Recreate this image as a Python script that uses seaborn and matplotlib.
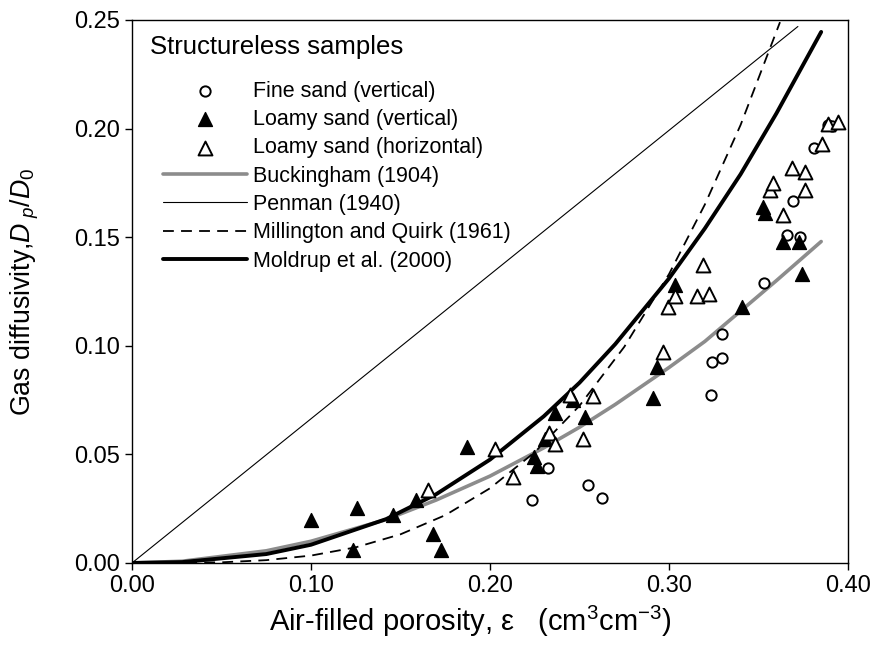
import numpy as np
import pandas as pd
import seaborn as sns
import matplotlib.pyplot as plt

# measured points (air-filled porosity, relative gas diffusivity)
fine_x = [0.2235, 0.2324, 0.2547, 0.2626, 0.3235, 0.324, 0.3296, 0.3296, 0.353,
          0.366, 0.373, 0.369, 0.381, 0.389, 0.391]
fine_y = [0.029, 0.0435, 0.036, 0.030, 0.0775, 0.0925, 0.0945, 0.1055, 0.129,
          0.151, 0.150, 0.1665, 0.191, 0.2015, 0.201]

loamy_v_x = [0.100, 0.1235, 0.1257, 0.1458, 0.1587, 0.1682, 0.1726, 0.1872, 0.2247,
             0.2265, 0.2307, 0.2363, 0.2464, 0.2531, 0.2911, 0.2933, 0.3034,
             0.3408, 0.3525, 0.3535, 0.3637, 0.3726, 0.3743]
loamy_v_y = [0.020, 0.006, 0.0255, 0.022, 0.029, 0.0135, 0.006, 0.0535, 0.049,
             0.0445, 0.057, 0.069, 0.075, 0.067, 0.076, 0.090, 0.128,
             0.118, 0.164, 0.161, 0.148, 0.148, 0.133]

loamy_h_x = [0.1654, 0.2028, 0.2128, 0.233, 0.2363, 0.2447, 0.252, 0.2575, 0.2967,
             0.2994, 0.3034, 0.3156, 0.319, 0.3223, 0.3564, 0.358, 0.3637, 0.3687,
             0.376, 0.376, 0.3855, 0.389, 0.3944]
loamy_h_y = [0.0335, 0.0525, 0.0395, 0.060, 0.055, 0.0775, 0.057, 0.077, 0.097,
             0.118, 0.123, 0.123, 0.137, 0.124, 0.1715, 0.175, 0.160, 0.182,
             0.180, 0.1715, 0.193, 0.202, 0.203]

# model curves
buck_x = [0.0, 0.028, 0.075, 0.10, 0.142, 0.17, 0.20, 0.23, 0.25, 0.27, 0.30, 0.32, 0.34, 0.36, 0.385]
buck_y = [0.0, 0.0008, 0.0056, 0.010, 0.020, 0.029, 0.040, 0.053, 0.0625, 0.073, 0.090, 0.102, 0.116, 0.130, 0.148]

pen_x = [0.0, 0.372]
pen_y = [0.0, 0.247]

mq_x = [0.0, 0.05, 0.075, 0.10, 0.125, 0.15, 0.175, 0.20, 0.225, 0.25, 0.275, 0.30, 0.32, 0.34, 0.362]
mq_y = [0.0, 0.0003, 0.0013, 0.0034, 0.0072, 0.0132, 0.022, 0.0344, 0.051, 0.0724, 0.0995, 0.133, 0.165, 0.2017, 0.249]

mold_x = [0.0, 0.028, 0.075, 0.10, 0.142, 0.17, 0.20, 0.23, 0.25, 0.27, 0.30, 0.32, 0.34, 0.36, 0.385]
mold_y = [0.0, 0.0004, 0.0041, 0.0084, 0.0202, 0.0317, 0.0476, 0.0675, 0.083, 0.1008, 0.131, 0.154, 0.179, 0.207, 0.2445]

legend_order = ['Fine sand (vertical)', 'Loamy sand (vertical)', 'Loamy sand (horizontal)',
                'Buckingham (1904)', 'Penman (1940)', 'Millington and Quirk (1961)',
                'Moldrup et al. (2000)']

sns.set_style('ticks')
plt.rcParams['font.family'] = ['Liberation Sans', 'DejaVu Sans']
plt.rcParams['mathtext.fontset'] = 'custom'
plt.rcParams['mathtext.rm'] = 'Liberation Sans'
plt.rcParams['mathtext.it'] = 'Liberation Sans:italic'
plt.rcParams['text.color'] = 'black'
plt.rcParams['axes.labelcolor'] = 'black'
plt.rcParams['xtick.color'] = 'black'
plt.rcParams['ytick.color'] = 'black'

fig = plt.figure(figsize=(8.72, 6.66), dpi=100)
ax = fig.add_axes([0.1514, 0.1547, 0.8211, 0.8153])

# lines
sns.lineplot(x=buck_x, y=buck_y, color='#8c8c8c', linewidth=2.6, label=legend_order[3], ax=ax, sort=False)
sns.lineplot(x=pen_x, y=pen_y, color='black', linewidth=0.8, label=legend_order[4], ax=ax, sort=False)
sns.lineplot(x=mq_x, y=mq_y, color='black', linewidth=1.3, linestyle=(0, (6, 4)),
             label=legend_order[5], ax=ax, sort=False)
sns.lineplot(x=mold_x, y=mold_y, color='black', linewidth=2.8, label=legend_order[6], ax=ax, sort=False)

# points
sns.scatterplot(x=fine_x, y=fine_y, marker='o', s=55, color='white', edgecolor='black',
                linewidth=1.4, label=legend_order[0], ax=ax, zorder=3)
sns.scatterplot(x=loamy_v_x, y=loamy_v_y, marker='^', s=100, color='black', edgecolor='black',
                linewidth=1.0, label=legend_order[1], ax=ax, zorder=3)
sns.scatterplot(x=loamy_h_x, y=loamy_h_y, marker='^', s=100, color='white', edgecolor='black',
                linewidth=1.4, label=legend_order[2], ax=ax, zorder=3)

ax.set_xlim(0, 0.40)
ax.set_ylim(0, 0.25)
ax.set_xticks([0.0, 0.1, 0.2, 0.3, 0.4])
ax.set_xticklabels(['0.00', '0.10', '0.20', '0.30', '0.40'])
ax.set_yticks([0.0, 0.05, 0.10, 0.15, 0.20, 0.25])
ax.set_yticklabels(['0.00', '0.05', '0.10', '0.15', '0.20', '0.25'])
ax.tick_params(labelsize=17, length=5, width=1, color='black', labelcolor='black', direction='out')
for sp in ax.spines.values():
    sp.set_visible(True)
    sp.set_color('black')
    sp.set_linewidth(1.0)

ax.set_xlabel(r'Air-filled porosity, ε   (cm$^3$cm$^{-3}$)', fontsize=21, color='black')
ax.set_ylabel(r'Gas diffusivity,$D_{\ p}/D_0$', fontsize=19.3, color='black')
ax.xaxis.set_label_coords(0.472, -0.075)
ax.yaxis.set_label_coords(-0.127, 0.5)

h, l = ax.get_legend_handles_labels()
hd = dict(zip(l, h))
leg = ax.legend([hd[k] for k in legend_order], legend_order, loc='upper left',
                bbox_to_anchor=(0.013, 0.989), frameon=False, fontsize=15.5,
                title='Structureless samples', title_fontsize=18.5,
                handlelength=3.9, handletextpad=0.3, labelspacing=0.34, borderaxespad=0,
                labelcolor='black')
leg.get_title().set_color('black')
leg._legend_box.align = 'left'
leg._legend_box.sep = 6.5
leg._legend_handle_box.pad = 9.4

fig.savefig('out.png', dpi=100)
